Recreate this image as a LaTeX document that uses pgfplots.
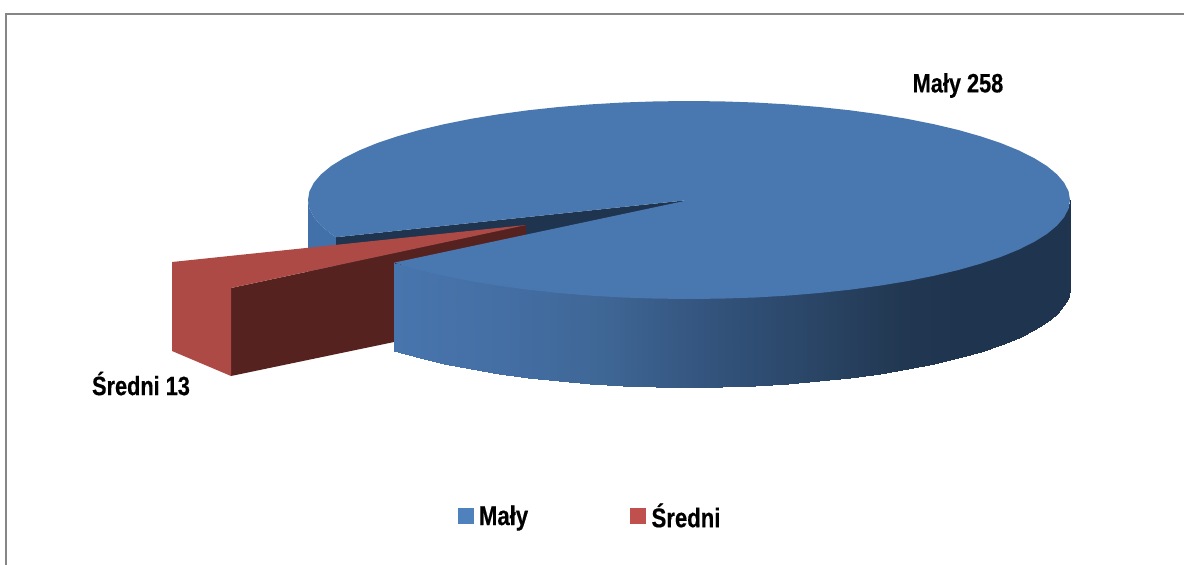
\documentclass[border=0pt]{standalone}
\usepackage{pgfplots}
\pgfplotsset{compat=1.18}
\usepackage{fontspec}
\setmainfont{Liberation Sans}
\newfontfamily\narrowfont[FakeStretch=0.82,BoldFeatures={FakeBold=0.4}]{Liberation Sans}

\definecolor{blueTop}{RGB}{73,119,176}
\definecolor{blueLeft}{RGB}{66,112,168}
\definecolor{blueDark}{RGB}{31,52,78}
\definecolor{redTop}{RGB}{174,74,69}
\definecolor{redDark}{RGB}{85,34,32}
\definecolor{legBlue}{RGB}{79,129,189}
\definecolor{legRed}{RGB}{192,80,77}
\definecolor{frameGray}{RGB}{134,134,134}

% front wall of the big slice: x, top edge / bottom edge
\pgfplotstableread{
x y
394.0 262.7
394.0 350.7
419.6 268.0
419.6 358.0
444.1 273.8
444.1 363.8
470.5 279.1
470.5 369.1
498.5 283.7
498.5 373.7
528.0 287.7
528.0 377.7
558.7 291.0
558.7 381.0
590.4 293.6
590.4 383.6
622.8 295.5
622.8 385.5
655.8 296.6
655.8 386.6
689.0 297.0
689.0 387.0
722.2 296.6
722.2 386.6
755.2 295.5
755.2 385.5
787.6 293.6
787.6 383.6
819.3 291.0
819.3 381.0
850.0 287.7
850.0 377.7
879.5 283.7
879.5 373.7
907.5 279.1
907.5 369.1
933.9 273.8
933.9 363.8
958.4 268.0
958.4 358.0
980.9 261.6
980.9 351.6
1001.1 254.8
1001.1 344.8
1019.0 247.5
1019.0 337.5
1034.3 239.8
1034.3 329.8
1047.0 231.9
1047.0 321.9
1057.0 223.6
1057.0 313.6
1064.2 215.2
1064.2 305.2
1068.6 206.6
1068.6 296.6
1070.0 200.0
1070.0 288.0
}\wallTable

\begin{document}
\begin{tikzpicture}
\path[use as bounding box] (0,0) rectangle (1184pt,565pt);
\begin{axis}[
  at={(0,0)},anchor=south west,
  scale only axis,width=1184pt,height=565pt,
  xmin=0,xmax=1184,ymin=0,ymax=565,y dir=reverse,
  hide axis,clip=true,
  colormap={wall}{rgb255(394)=(72,117,173) rgb255(500)=(68,111,165) rgb255(600)=(63,103,150)
    rgb255(700)=(52,85,127) rgb255(800)=(43,71,105) rgb255(900)=(34,56,82) rgb255(960)=(31,52,78) rgb255(1070)=(31,52,78)},
  point meta min=394,point meta max=1070,
  legend style={draw=none,fill=none,at={(axis cs:590,516)},anchor=center,
    font=\fontsize{27}{30}\narrowfont\bfseries,
    /tikz/every even column/.append style={column sep=100pt},
    /tikz/every odd column/.append style={column sep=4pt},
    legend cell align=left},
  legend columns=2,
]
% frame
\addplot[forget plot,frameGray,line width=2pt] coordinates {(5.5,565)(5.5,14)(1184,14)};

% left bit of the wall, behind the cut
\addplot[forget plot,draw=none,fill=blueLeft] coordinates {(308,200)(309.4,208.6)(313.8,217.2)(321,225.6)(331,233.9)(336,237.2)(336,320)(308,288)} -- cycle;
% inner cut face
\addplot[forget plot,draw=none,fill=blueDark] coordinates {(689,200)(336,237.2)(336,325)(689,288)} -- cycle;

% small slice, pulled out
\addplot[forget plot,draw=none,fill=redDark] coordinates {(231,288)(526,225)(526,238)(396,266)(396,341.6)(231,376)} -- cycle;
\addplot[forget plot,draw=none,fill=redTop] coordinates {(172,262)(526,225)(231,288)(231,376)(172,351)} -- cycle;

% front wall
\addplot[forget plot,surf,shader=interp,mesh/cols=2,point meta=x] table {\wallTable};

% top face
\addplot[forget plot,draw=none,fill=blueTop] coordinates {
(689,200)(394,262.7)(397.1,263.6)(419.6,270)(444.1,275.8)(470.5,281.1)(498.5,285.7)(528,289.7)
(558.7,293)(590.4,295.6)(622.8,297.5)(655.8,298.6)(689,299)(722.2,298.6)(755.2,297.5)(787.6,295.6)
(819.3,293)(850,289.7)(879.5,285.7)(907.5,281.1)(933.9,275.8)(958.4,270)(980.9,263.6)(1001.1,256.8)
(1019,249.5)(1034.3,241.8)(1047,233.9)(1057,225.6)(1064.2,217.2)(1068.6,208.6)(1070,200)
(1068.6,191.4)(1064.2,182.8)(1057,174.4)(1047,166.1)(1034.3,158.2)(1019,150.5)(1001.1,143.2)
(980.9,136.4)(958.4,130)(933.9,124.2)(907.5,118.9)(879.5,114.3)(850,110.3)(819.3,107)(787.6,104.4)
(755.2,102.5)(722.2,101.4)(689,101)(655.8,101.4)(622.8,102.5)(590.4,104.4)(558.7,107)(528,110.3)
(498.5,114.3)(470.5,118.9)(444.1,124.2)(419.6,130)(397.1,136.4)(376.9,143.2)(359,150.5)(343.7,158.2)
(331,166.1)(321,174.4)(313.8,182.8)(309.4,191.4)(308,200)(309.4,208.6)(313.8,217.2)(321,225.6)
(331,233.9)(336,237.2)} -- cycle;

% legend
\addlegendimage{legend image code/.code={\fill[legBlue] (0pt,-7.5pt) rectangle (15pt,7.5pt);}}
\addlegendentry{Mały}
\addlegendimage{legend image code/.code={\fill[legRed] (0pt,-7.5pt) rectangle (15pt,7.5pt);}}
\addlegendentry{Średni}

% data labels
\node[font=\fontsize{26.5}{28}\narrowfont\bfseries,anchor=center] at (axis cs:958,85.5) {Mały 258};
\node[font=\fontsize{26.5}{28}\narrowfont\bfseries,anchor=center] at (axis cs:141,383.5) {Średni 13};
\end{axis}
\end{tikzpicture}
\end{document}
